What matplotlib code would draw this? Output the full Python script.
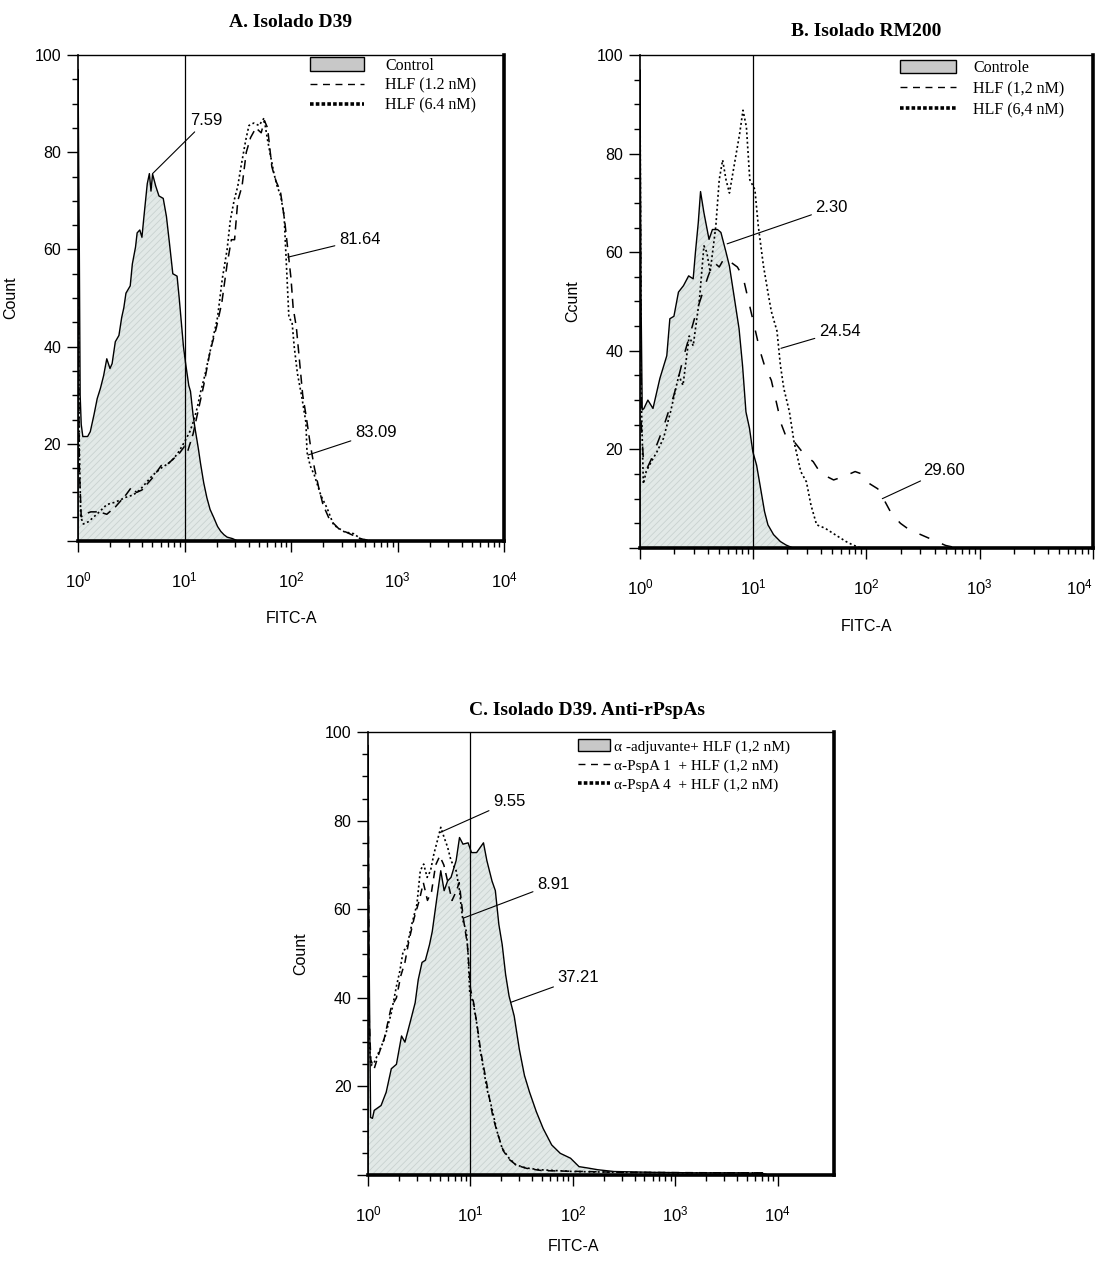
import numpy as np
import matplotlib
matplotlib.use("Agg")
import matplotlib.pyplot as plt
from matplotlib.patches import Patch
from matplotlib.lines import Line2D
from matplotlib.ticker import FixedLocator, FixedFormatter, LogFormatterSciNotation

plt.rcParams['font.family'] = ['Liberation Sans', 'DejaVu Sans']
plt.rcParams['hatch.linewidth'] = 0.6

# ---- data (x = log10 FITC-A, y = count) ----
# panel A - Isolado D39
a_ctrl_lx = [0.0, 0.0, 0.012, 0.02, 0.03, 0.045, 0.09, 0.115, 0.15, 0.18, 0.21, 0.24, 0.27, 0.3, 0.32, 0.35, 0.384,
             0.41, 0.43, 0.45, 0.49, 0.51, 0.54, 0.555, 0.58, 0.6, 0.62, 0.65, 0.67, 0.685, 0.7, 0.73, 0.76, 0.8,
             0.83, 0.86, 0.89, 0.93, 0.95, 0.97, 0.99, 1.01, 1.04, 1.056, 1.08, 1.1, 1.13, 1.15, 1.18, 1.21, 1.24,
             1.275, 1.31, 1.34, 1.37, 1.4, 1.45, 1.5]
a_ctrl_y = [0, 97, 60, 30, 24, 21.5, 21.5, 22.5, 26, 29.3, 31.4, 34, 37.5, 35.5, 36.5, 41, 42.3,
            46, 48, 51, 52.5, 57, 60.5, 63.4, 64, 62.5, 67, 73.5, 75.6, 72, 75.5, 73, 71, 70.5,
            66.8, 61, 55, 54.5, 50, 45, 40, 36.6, 32, 30.8, 26, 23, 19, 16, 12, 8.9, 6.5,
            4.8, 3, 2, 1.3, 0.8, 0.5, 0]
a_h12_lx = [0.0, 0.012, 0.03, 0.06, 0.12, 0.2, 0.27, 0.35, 0.45, 0.5, 0.55, 0.6, 0.7, 0.78, 0.85, 0.95, 1.0, 1.03,
            1.08, 1.12, 1.18, 1.24, 1.3, 1.35, 1.4, 1.44, 1.47, 1.5, 1.54, 1.58, 1.62, 1.67, 1.72, 1.75, 1.78, 1.82,
            1.86, 1.9, 1.94, 1.97, 2.0, 2.02, 2.05, 2.08, 2.11, 2.14, 2.18, 2.22, 2.26, 2.3, 2.36, 2.45, 2.55, 2.65, 2.75]
a_h12_y = [60, 15, 5, 5.5, 6, 6, 5.5, 7, 9.5, 11, 10, 10.5, 13, 15.5, 16, 18, 19.5, 18.5,
           22, 26, 32, 39, 44, 49, 57, 62, 62, 70, 73, 80, 83, 85, 84, 86.5, 85, 77,
           74, 72, 66, 60, 54, 48, 44, 37, 30, 26, 20, 15, 11, 7.5, 4.5, 2.5, 1.5, 0.5, 0]
a_h64_lx = [0.0, 0.012, 0.025, 0.05, 0.1, 0.15, 0.2, 0.27, 0.35, 0.45, 0.52, 0.58, 0.62, 0.7, 0.78, 0.85, 0.9, 0.95,
            1.0, 1.05, 1.09, 1.12, 1.15, 1.19, 1.23, 1.27, 1.31, 1.355, 1.4, 1.43, 1.465, 1.5, 1.53, 1.575, 1.605,
            1.65, 1.7, 1.746, 1.78, 1.81, 1.84, 1.87, 1.903, 1.935, 1.95, 1.965, 1.98, 2.01, 2.03, 2.06, 2.1, 2.14,
            2.15, 2.18, 2.22, 2.28, 2.34, 2.4, 2.5, 2.59, 2.65, 2.75]
a_h64_y = [65, 20, 5, 3.5, 4, 5, 6, 7.5, 8, 9, 9.5, 10.5, 11.5, 13.5, 15, 16, 17, 18.5,
           20.4, 22.5, 25, 27.5, 30.6, 34, 38, 42, 46, 54, 60, 66, 70, 73, 77, 82.5, 85.5,
           86, 85.5, 87, 82.5, 79, 75.6, 73, 71, 67, 60, 53, 46, 45, 40, 34.5, 29.8, 24.4,
           18.3, 15.5, 13.5, 9.4, 6.7, 3.3, 1.9, 1.5, 0.5, 0]

# panel B - Isolado RM200
b_ctrl_lx = [0.0, 0.0, 0.01, 0.02, 0.035, 0.07, 0.115, 0.176, 0.237, 0.264, 0.3, 0.34, 0.384, 0.43, 0.47, 0.49,
             0.515, 0.535, 0.565, 0.61, 0.64, 0.685, 0.715, 0.76, 0.79, 0.835, 0.875, 0.906, 0.936, 0.967, 0.997,
             1.03, 1.06, 1.1, 1.13, 1.18, 1.24, 1.29, 1.35]
b_ctrl_y = [0, 97, 50, 28, 28.3, 30, 28.3, 34.4, 39, 46.5, 47, 51.9, 53.2, 55.2, 54.6, 60,
            66, 72.3, 68, 62.6, 64.6, 64.6, 64, 60, 57.2, 50.5, 44.5, 37, 27.6, 24.3, 19.5,
            16.8, 12.8, 7.4, 4.7, 2.7, 1.3, 0.6, 0]
b_h12_lx = [0.0, 0.012, 0.03, 0.06, 0.1, 0.2, 0.3, 0.4, 0.5, 0.6, 0.65, 0.7, 0.75, 0.8, 0.86, 0.91, 0.95, 0.98,
            1.02, 1.06, 1.1, 1.16, 1.22, 1.24, 1.3, 1.36, 1.45, 1.53, 1.6, 1.65, 1.71, 1.8, 1.9, 1.96, 2.03, 2.1,
            2.15, 2.22, 2.3, 2.36, 2.45, 2.58, 2.7, 2.8]
b_h12_y = [90, 25, 18, 16, 18, 24, 31, 40, 48, 55, 58, 57, 59, 58, 57, 55, 51, 48,
           44, 40, 37, 34, 28, 25.6, 22, 21.6, 19, 17.5, 15, 14.5, 13.8, 14.5, 15.5, 15, 13, 12,
           10, 7, 5, 4, 3, 1.7, 0.5, 0]
b_h64_lx = [0.0, 0.012, 0.03, 0.055, 0.1, 0.15, 0.207, 0.27, 0.343, 0.38, 0.435, 0.47, 0.526, 0.565, 0.59, 0.62,
            0.67, 0.7, 0.73, 0.76, 0.79, 0.82, 0.85, 0.88, 0.91, 0.94, 0.97, 1.015, 1.045, 1.09, 1.135, 1.16, 1.21,
            1.24, 1.27, 1.32, 1.36, 1.42, 1.47, 1.51, 1.56, 1.635, 1.73, 1.82, 1.88, 1.95]
b_h64_y = [95, 30, 13, 15.5, 17.5, 19.5, 22.2, 27.6, 35, 33, 43, 41, 50.6, 61.3, 60, 56,
           65.3, 74.7, 78.7, 74.7, 72, 76, 80, 84, 88.8, 85.4, 74.7, 72.7, 65.3, 57.3, 51.2, 48, 44,
           37.1, 32.4, 27.6, 21.6, 15.5, 13.4, 8.7, 4.7, 4, 2.6, 1.3, 0.6, 0]

# panel C - Isolado D39, anti-rPspAs
c_ctrl_lx = [0.0, 0.0, 0.01, 0.025, 0.043, 0.06, 0.127, 0.177, 0.227, 0.277, 0.327, 0.36, 0.41, 0.46, 0.49, 0.527,
             0.56, 0.6, 0.627, 0.677, 0.71, 0.743, 0.777, 0.81, 0.86, 0.893, 0.927, 0.977, 1.01, 1.06, 1.127, 1.16,
             1.21, 1.243, 1.277, 1.31, 1.343, 1.377, 1.427, 1.477, 1.527, 1.577, 1.643, 1.71, 1.793, 1.877, 1.977,
             2.06, 2.143, 2.243, 2.4, 2.8, 3.2, 3.6, 3.85, 3.9]
c_ctrl_y = [0, 97, 50, 13, 12.8, 14.6, 15.7, 18.7, 24, 25, 31.4, 30, 34.4, 38.9, 44.1, 48,
            48.5, 52, 55, 63.4, 68.7, 64.2, 66.4, 67.2, 71, 76.2, 74.7, 75, 72.8, 72.8, 75, 71,
            66.4, 64.2, 56.6, 52, 45.3, 40.4, 35.9, 28.4, 22.5, 18.7, 14.3, 10.5, 6.8, 4.9, 3.8,
            1.9, 1.6, 1.2, 0.8, 0.6, 0.5, 0.5, 0.4, 0]
c_p1_lx = [0.0, 0.012, 0.027, 0.06, 0.1, 0.16, 0.227, 0.277, 0.32, 0.36, 0.4, 0.45, 0.5, 0.54, 0.58, 0.62, 0.66,
           0.7, 0.74, 0.78, 0.82, 0.86, 0.89, 0.93, 0.97, 1.0, 1.03, 1.07, 1.1, 1.14, 1.18, 1.22, 1.27, 1.32, 1.38,
           1.45, 1.55, 1.7, 2.5, 3.5, 3.85, 3.9]
c_p1_y = [92, 35, 26, 24, 27, 31, 38, 40, 45, 48, 53, 58, 62, 66, 62, 64, 70,
          72, 70, 66, 62, 64, 66, 58, 52, 42, 39, 33, 28, 23, 18, 13, 9, 5.5, 3.5,
          2.2, 1.5, 1.0, 0.6, 0.5, 0.5, 0]
c_p4_lx = [0.0, 0.012, 0.027, 0.06, 0.1, 0.16, 0.227, 0.277, 0.31, 0.343, 0.377, 0.427, 0.477, 0.51, 0.543, 0.577,
           0.61, 0.643, 0.677, 0.71, 0.743, 0.777, 0.81, 0.86, 0.893, 0.91, 0.927, 0.96, 0.977, 0.993, 1.027, 1.06,
           1.093, 1.127, 1.16, 1.21, 1.26, 1.31, 1.377, 1.443, 1.543, 1.677, 2.0, 2.5, 3.0, 3.5, 3.85, 3.9]
c_p4_y = [70, 30, 24.7, 25.4, 27.5, 30.7, 36.6, 42.6, 46, 50.6, 51.3, 56.6, 61.1, 68.7, 70.2, 67.2,
          68.7, 72.5, 75.5, 78.5, 76.2, 74, 71, 68.7, 64.2, 60.4, 57.4, 55, 49.8, 41.1, 38.9, 34.4,
          28.4, 24, 19.5, 15, 9.8, 6, 3.8, 2.3, 1.6, 1.2, 0.8, 0.6, 0.5, 0.5, 0.5, 0]

# annotations: (label, curve point, text point) in (log10 x, count)
a_notes = [("7.59", (0.70, 75.6), (1.05, 86.5)),
           ("81.64", (1.97, 58.4), (2.45, 62.0)),
           ("83.09", (2.16, 17.7), (2.60, 22.3))]
b_notes = [("2.30", (0.77, 61.7), (1.55, 69.0)),
           ("24.54", (1.245, 40.5), (1.58, 44.0)),
           ("29.60", (2.14, 10.0), (2.50, 15.8))]
c_notes = [("9.55", (0.70, 77.3), (1.22, 84.3)),
           ("8.91", (0.93, 58.0), (1.65, 65.7)),
           ("37.21", (1.395, 39.0), (1.85, 44.5))]

a_legend = ["Control", "HLF (1.2 nM)", "HLF (6.4 nM)"]
b_legend = ["Controle", "HLF (1,2 nM)", "HLF (6,4 nM)"]
c_legend = ["\u03b1 -adjuvante+ HLF (1,2 nM)", "\u03b1-PspA 1  + HLF (1,2 nM)", "\u03b1-PspA 4  + HLF (1,2 nM)"]

fill_col = '#e2e9e7'
hatch_col = '#c9d2d0'
serif = {'family': 'Liberation Serif'}


def setup_axes(ax, xmax, ylab, title, title_x=0.5, xlab_x=0.5, title_pad=14):
    ax.set_xscale('log')
    ax.set_xlim(1, xmax)
    ax.set_ylim(0, 100)
    ax.xaxis.set_major_locator(FixedLocator([1, 10, 100, 1000, 10000]))
    ax.xaxis.set_major_formatter(LogFormatterSciNotation())
    minors = [m * 10 ** k for k in range(4) for m in range(2, 10)]
    ax.xaxis.set_minor_locator(FixedLocator(minors))
    ax.xaxis.set_minor_formatter(FixedFormatter([''] * len(minors)))
    ax.yaxis.set_major_locator(FixedLocator([0, 20, 40, 60, 80, 100]))
    ax.yaxis.set_major_formatter(FixedFormatter(['', '20', '40', '60', '80', '100']))
    ax.yaxis.set_minor_locator(FixedLocator(list(range(5, 100, 5))))
    ax.tick_params(axis='both', which='major', length=8, width=1, labelsize=11.5, direction='out')
    ax.tick_params(axis='both', which='minor', length=4, width=1, direction='out')
    ax.tick_params(axis='x', which='major', pad=13, labelsize=12)
    ax.tick_params(axis='y', which='major', pad=4)
    ax.tick_params(top=False, right=False)
    ax.spines['top'].set_linewidth(1.0)
    ax.spines['left'].set_linewidth(1.2)
    ax.spines['right'].set_linewidth(2.6)
    ax.spines['bottom'].set_linewidth(2.6)
    ax.set_ylabel(ylab, fontsize=11.5, labelpad=12)
    ax.set_xlabel("FITC-A", fontsize=11.5)
    ax.xaxis.set_label_coords(xlab_x, -0.145)
    ax.set_title(title, fontsize=14, fontweight='bold', x=title_x, pad=title_pad, **serif)
    ax.axvline(10, color='black', lw=0.9, zorder=4)


def draw_fill(ax, lx, y):
    x = 10 ** np.array(lx)
    ax.fill_between(x, 0, y, facecolor=fill_col, edgecolor=hatch_col, hatch='/////', linewidth=0, zorder=1)
    ax.plot(x, y, color='black', lw=1.0, zorder=3)


def draw_line(ax, lx, y, ls, lw=1.1):
    ax.plot(10 ** np.array(lx), y, color='black', lw=lw, linestyle=ls, zorder=3)


def draw_notes(ax, notes):
    for label, p, t in notes:
        ax.annotate(label, xy=(10 ** p[0], p[1]), xytext=(10 ** t[0], t[1]), fontsize=12,
                    va='center', ha='left',
                    arrowprops=dict(arrowstyle='-', lw=0.8, color='black', shrinkA=1, shrinkB=0))


def add_legend(ax, labels, anchor, hlen, tpad, fs, spacing):
    handles = [Patch(facecolor='#c8c8c8', edgecolor='black', linewidth=1.0),
               Line2D([], [], color='black', lw=1.0, linestyle=(0, (5, 4))),
               Line2D([], [], color='black', lw=2.6, linestyle=(0, (1, 0.6)))]
    ax.legend(handles, labels, loc='upper left', bbox_to_anchor=anchor, frameon=False,
              handlelength=hlen, handletextpad=tpad, handleheight=0.9, labelspacing=spacing,
              borderpad=0, borderaxespad=0, prop={'family': 'Liberation Serif', 'size': fs})


fig = plt.figure(figsize=(10.99, 12.62), dpi=100)

# A
axA = fig.add_axes([0.071, 0.5713, 0.3876, 0.3851])
setup_axes(axA, 10 ** 4, "Count", "A. Isolado D39", title_pad=20)
draw_fill(axA, a_ctrl_lx, a_ctrl_y)
draw_line(axA, a_h12_lx, a_h12_y, (0, (6, 4)))
draw_line(axA, a_h64_lx, a_h64_y, (0, (1.2, 1.6)), lw=1.2)
draw_notes(axA, a_notes)
add_legend(axA, a_legend, (0.545, 0.995), 3.4, 1.3, 11.5, 0.25)

# B
axB = fig.add_axes([0.5823, 0.5658, 0.4122, 0.3906])
setup_axes(axB, 10 ** 4, "Ccunt", "B. Isolado RM200", title_pad=14)
draw_fill(axB, b_ctrl_lx, b_ctrl_y)
draw_line(axB, b_h12_lx, b_h12_y, (0, (7, 9)))
draw_line(axB, b_h64_lx, b_h64_y, (0, (1.2, 1.6)), lw=1.2)
draw_notes(axB, b_notes)
add_legend(axB, b_legend, (0.574, 0.99), 3.5, 1.1, 11.5, 0.3)
# last label would run off the figure edge
axB.xaxis.get_major_ticks()[-1].label1.set_horizontalalignment('right')

# C
axC = fig.add_axes([0.3349, 0.0689, 0.424, 0.351])
setup_axes(axC, 10 ** 4.55, "Count", "C. Isolado D39. Anti-rPspAs", title_x=0.47, xlab_x=0.44, title_pad=12)
draw_fill(axC, c_ctrl_lx, c_ctrl_y)
draw_line(axC, c_p1_lx, c_p1_y, (0, (5, 4)))
draw_line(axC, c_p4_lx, c_p4_y, (0, (1.2, 1.6)), lw=1.2)
draw_notes(axC, c_notes)
add_legend(axC, c_legend, (0.45, 0.985), 2.1, 0.25, 11, 0.3)

fig.savefig("out.png", dpi=100)
